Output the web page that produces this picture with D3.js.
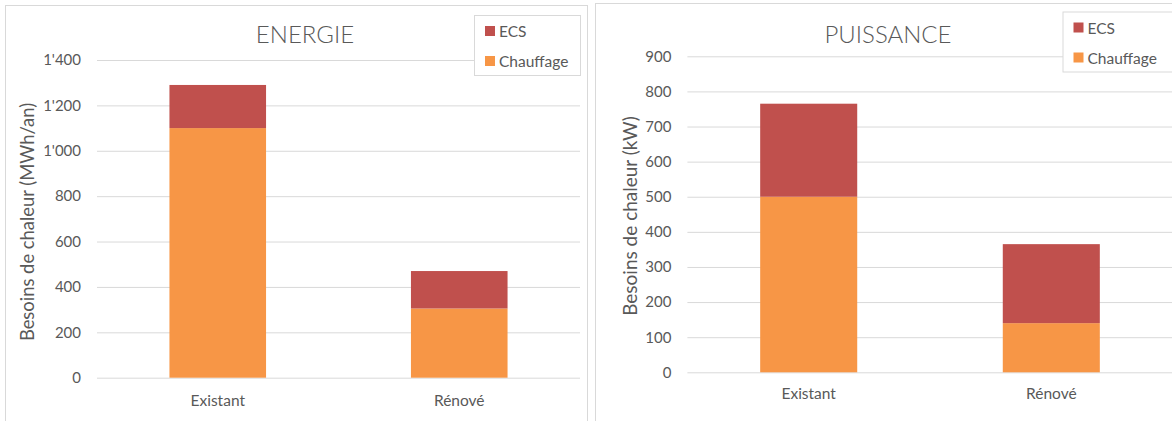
<!DOCTYPE html>
<html>
<head>
<meta charset="utf-8">
<script src="https://cdn.jsdelivr.net/npm/d3@7/dist/d3.min.js"></script>
<style>
  html, body { margin: 0; padding: 0; background: #fff; }
  svg { display: block; font-family: Lato, "Open Sans", sans-serif; }
</style>
</head>
<body>
<svg id="chart" width="1172" height="421"></svg>
<script>
// Categories and series
const categories = ["Existant", "Rénové"];
const seriesNames = ["Chauffage", "ECS"];
const legendOrder = ["ECS", "Chauffage"];

// Heat demand per year (MWh/an)
const energieChauffage = [1100, 305];
const energieECS = [190, 165];
const energieTicks = [0, 200, 400, 600, 800, 1000, 1200, 1400];

// Heat power (kW)
const puissanceChauffage = [500, 140];
const puissanceECS = [265, 225];
const puissanceTicks = [0, 100, 200, 300, 400, 500, 600, 700, 800, 900];

const colors = { "Chauffage": "#f79646", "ECS": "#c0504d" };
const textColor = "#595959";
const gridColor = "#d9d9d9";

// Swiss number format: 1'400
const swiss = d3.formatLocale({ decimal: ".", thousands: "'", grouping: [3], currency: ["", ""] });
const fmt = swiss.format(",d");

const svg = d3.select("#chart");

function drawChart(cfg) {
  const g = svg.append("g");

  // outer frame
  g.append("rect")
    .attr("x", cfg.frame[0] + 0.5).attr("y", cfg.frame[1] + 0.5)
    .attr("width", cfg.frame[2]).attr("height", cfg.frame[3])
    .attr("fill", "#fff").attr("stroke", gridColor).attr("stroke-width", 1);

  const rows = categories.map((c, i) => ({ cat: c, Chauffage: cfg.chauffage[i], ECS: cfg.ecs[i] }));
  const stacked = d3.stack().keys(seriesNames)(rows);

  const x = d3.scaleBand().domain(categories).range(cfg.xRange).paddingInner(0.6).paddingOuter(0.3);
  const y = d3.scaleLinear().domain([0, d3.max(cfg.ticks)]).range(cfg.yRange);

  // gridlines + tick labels
  const yAxis = d3.axisLeft(y).tickValues(cfg.ticks).tickFormat(fmt)
    .tickSize(-(cfg.xRange[1] - cfg.xRange[0])).tickPadding(16);
  const ya = g.append("g").attr("transform", `translate(${cfg.xRange[0]},0)`).call(yAxis);
  ya.select(".domain").remove();
  ya.selectAll(".tick line").attr("stroke", gridColor).attr("stroke-width", 1);
  ya.selectAll(".tick text").attr("fill", textColor).attr("font-size", 15)
    .attr("font-family", "Lato, sans-serif");

  // stacked bars
  g.append("g").selectAll("g").data(stacked).join("g")
    .attr("fill", d => colors[d.key])
    .selectAll("rect").data(d => d).join("rect")
    .attr("x", d => x(d.data.cat))
    .attr("width", x.bandwidth())
    .attr("y", d => y(d[1]))
    .attr("height", d => y(d[0]) - y(d[1]));

  // category labels
  const xAxis = d3.axisBottom(x).tickSize(0).tickPadding(cfg.catPad);
  const xa = g.append("g").attr("transform", `translate(0,${cfg.yRange[0]})`).call(xAxis);
  xa.select(".domain").remove();
  xa.selectAll(".tick text").attr("fill", textColor).attr("font-size", 15.5)
    .attr("font-family", "Lato, sans-serif");

  // title
  g.append("text")
    .attr("x", cfg.title.x).attr("y", cfg.title.y)
    .attr("text-anchor", "middle").attr("fill", textColor)
    .attr("font-size", 24).attr("font-weight", 300)
    .text(cfg.title.text);

  // axis title
  g.append("text")
    .attr("transform", `translate(${cfg.yLabel.x},${cfg.yLabel.y}) rotate(-90)`)
    .attr("text-anchor", "middle").attr("dominant-baseline", "central")
    .attr("fill", textColor).attr("font-size", cfg.yLabel.size)
    .text(cfg.yLabel.text);

  // legend
  const lg = g.append("g").attr("transform", `translate(${cfg.legend.x},${cfg.legend.y})`);
  lg.append("rect")
    .attr("x", 0.5).attr("y", 0.5).attr("width", cfg.legend.w).attr("height", cfg.legend.h)
    .attr("fill", "#fff").attr("stroke", gridColor);
  const item = lg.selectAll("g.item").data(legendOrder).join("g")
    .attr("class", "item")
    .attr("transform", (d, i) => `translate(11,${16 + i * 30})`);
  item.append("rect").attr("x", 0).attr("y", -5).attr("width", 10).attr("height", 10)
    .attr("fill", d => colors[d]);
  item.append("text").attr("x", 14).attr("y", 0).attr("dominant-baseline", "central")
    .attr("fill", textColor).attr("font-size", 15.5).text(d => d);
}

drawChart({
  frame: [5, 5, 582, 420],
  chauffage: energieChauffage, ecs: energieECS, ticks: energieTicks,
  xRange: [97, 580], yRange: [377.7, 60],
  catPad: 17,
  title: { x: 305, y: 42.5, text: "ENERGIE" },
  yLabel: { x: 27, y: 222, size: 18.4, text: "Besoins de chaleur (MWh/an)" },
  legend: { x: 474, y: 15, w: 106, h: 60 }
});

drawChart({
  frame: [595, 3, 600, 420],
  chauffage: puissanceChauffage, ecs: puissanceECS, ticks: puissanceTicks,
  xRange: [687.4, 1172.6], yRange: [372.3, 56.3],
  catPad: 16,
  title: { x: 888, y: 42.5, text: "PUISSANCE" },
  yLabel: { x: 629, y: 216, size: 19, text: "Besoins de chaleur (kW)" },
  legend: { x: 1062.5, y: 11.5, w: 115, h: 60 }
});
</script>
</body>
</html>
